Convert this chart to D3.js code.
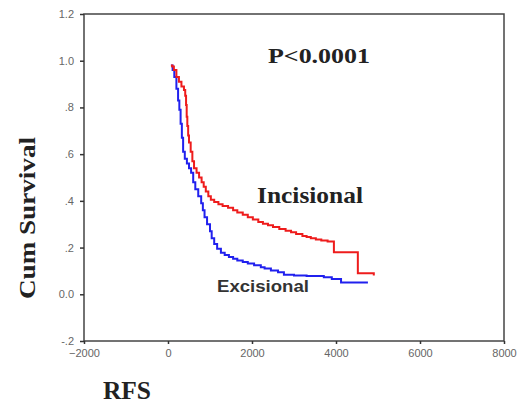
<!DOCTYPE html>
<html>
<head>
<meta charset="UTF-8">
<style>
body, html { margin: 0; padding: 0; background: #ffffff; overflow: hidden; }
svg { display: block; }
.tick text { font-family: Arial, "Liberation Sans", sans-serif; font-size: 11px; fill: #666; }
.big { font-family: "Liberation Serif", "Times New Roman", serif; font-weight: bold; fill: #222; }
</style>
</head>
<body>
<svg id="chart" width="521" height="403"></svg>
<script src="https://d3js.org/d3.v7.min.js"></script>
<script>
// survival curves (time in days, cumulative survival)
let incTime = [70, 100, 140, 200, 260, 320, 380, 410, 430, 445, 460, 480, 500, 540, 580, 620, 680, 740, 800, 850, 900, 960, 1020, 1100, 1200, 1300, 1430, 1550, 1650, 1780, 1900, 2020, 2150, 2260, 2380, 2500, 2650, 2800, 2930, 3050, 3200, 3300, 3400, 3520, 3650, 3800, 3950, 4520, 4900];
let incSurv = [0.98, 0.975, 0.96, 0.93, 0.91, 0.89, 0.875, 0.85, 0.81, 0.76, 0.72, 0.68, 0.65, 0.61, 0.57, 0.54, 0.52, 0.50, 0.48, 0.46, 0.44, 0.42, 0.405, 0.395, 0.385, 0.378, 0.37, 0.36, 0.35, 0.34, 0.33, 0.32, 0.31, 0.302, 0.296, 0.288, 0.28, 0.272, 0.266, 0.258, 0.25, 0.245, 0.24, 0.235, 0.23, 0.226, 0.18, 0.09, 0.08];

let excTime = [70, 110, 150, 200, 240, 270, 300, 330, 360, 400, 450, 500, 550, 600, 650, 720, 790, 830, 870, 930, 1000, 1040, 1100, 1170, 1260, 1350, 1450, 1550, 1650, 1780, 1900, 2050, 2210, 2300, 2450, 2620, 2760, 3000, 3300, 3710, 3900, 4120, 4760];
let excSurv = [0.98, 0.96, 0.93, 0.88, 0.83, 0.79, 0.73, 0.67, 0.61, 0.58, 0.56, 0.54, 0.52, 0.48, 0.45, 0.42, 0.39, 0.36, 0.33, 0.30, 0.27, 0.24, 0.215, 0.195, 0.178, 0.168, 0.16, 0.152, 0.145, 0.138, 0.132, 0.124, 0.116, 0.11, 0.102, 0.094, 0.084, 0.08, 0.078, 0.073, 0.065, 0.05, 0.05];

let xTicks = [-2000, 0, 2000, 4000, 6000, 8000];
let yTicks = [-0.2, 0, 0.2, 0.4, 0.6, 0.8, 1.0, 1.2];
let yTickLabels = ["-.2", "0.0", ".2", ".4", ".6", ".8", "1.0", "1.2"];

let svg = d3.select("#chart");

let x = d3.scaleLinear().domain([-2000, 8000]).range([84, 504]);
let y = d3.scaleLinear().domain([-0.2, 1.2]).range([341, 14]);

// frame
svg.append("rect")
    .attr("x", 84).attr("y", 14)
    .attr("width", 420).attr("height", 327)
    .attr("fill", "none")
    .attr("stroke", "#444")
    .attr("stroke-width", 1.5);

let xAxis = svg.append("g")
    .attr("transform", "translate(0,341)")
    .call(d3.axisBottom(x).tickValues(xTicks).tickFormat(d3.format("d")).tickSize(3).tickPadding(5));

let yAxis = svg.append("g")
    .attr("transform", "translate(84,0)")
    .call(d3.axisLeft(y).tickValues(yTicks).tickFormat((d, i) => yTickLabels[i]).tickSize(4).tickPadding(6));

[xAxis, yAxis].forEach(a => {
    a.select(".domain").remove();
    a.selectAll(".tick line").attr("stroke", "#333").attr("stroke-width", 1.5);
});

let line = d3.line()
    .x(d => x(d[0]))
    .y(d => y(d[1]))
    .curve(d3.curveStepAfter);

svg.append("path")
    .datum(excTime.map((t, i) => [t, excSurv[i]]))
    .attr("d", line)
    .attr("fill", "none")
    .attr("stroke", "#2020ee")
    .attr("stroke-width", 2);

svg.append("path")
    .datum(incTime.map((t, i) => [t, incSurv[i]]))
    .attr("d", line)
    .attr("fill", "none")
    .attr("stroke", "#ee1c1c")
    .attr("stroke-width", 2);

// labels
svg.append("text")
    .attr("class", "big")
    .attr("transform", "translate(35,299) rotate(-90)")
    .attr("font-size", 23)
    .attr("textLength", 162)
    .attr("lengthAdjust", "spacingAndGlyphs")
    .text("Cum Survival");

svg.append("text")
    .attr("class", "big")
    .attr("x", 103).attr("y", 399)
    .attr("font-size", 25)
    .attr("textLength", 48)
    .attr("lengthAdjust", "spacingAndGlyphs")
    .text("RFS");

svg.append("text")
    .attr("class", "big")
    .attr("x", 268).attr("y", 63)
    .attr("font-size", 22)
    .attr("textLength", 102)
    .attr("lengthAdjust", "spacingAndGlyphs")
    .text("P<0.0001");

svg.append("text")
    .attr("class", "big")
    .attr("x", 257).attr("y", 203)
    .attr("font-size", 23)
    .attr("textLength", 106)
    .attr("lengthAdjust", "spacingAndGlyphs")
    .text("Incisional");

svg.append("text")
    .attr("x", 217).attr("y", 292)
    .attr("font-family", "Arial, 'Liberation Sans', sans-serif")
    .attr("font-weight", "bold")
    .attr("font-size", 16)
    .attr("fill", "#333")
    .attr("textLength", 92)
    .attr("lengthAdjust", "spacingAndGlyphs")
    .text("Excisional");
</script>
</body>
</html>
